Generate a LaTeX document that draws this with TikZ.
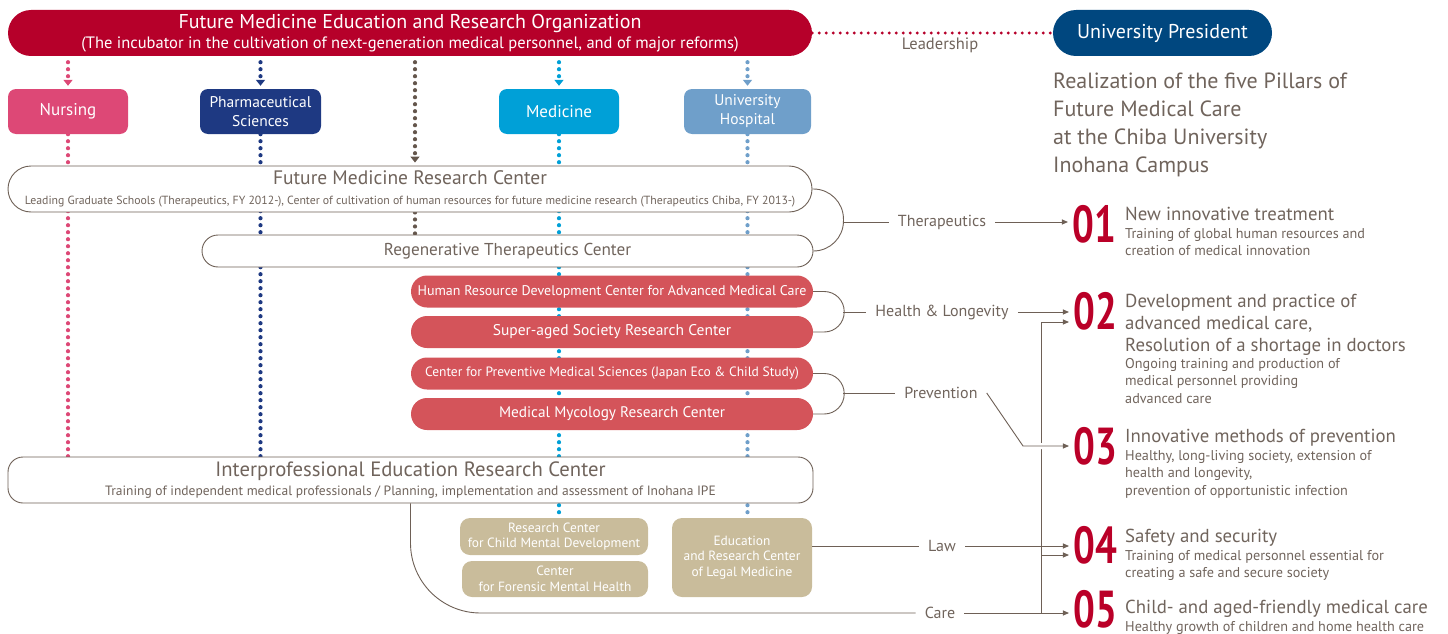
\documentclass[tikz,border=0pt]{standalone}
\usepackage{fontspec}
\setmainfont{PT Sans}
\usetikzlibrary{arrows.meta,backgrounds,calc}

\definecolor{orgred}{RGB}{182,0,42}
\definecolor{presblue}{RGB}{0,71,127}
\definecolor{nursepink}{RGB}{221,72,118}
\definecolor{pharmnavy}{RGB}{30,57,130}
\definecolor{medcyan}{RGB}{0,160,215}
\definecolor{hospblue}{RGB}{111,159,202}
\definecolor{dotbrown}{RGB}{100,86,76}
\definecolor{linebrown}{RGB}{110,96,86}
\definecolor{textgray}{RGB}{112,100,92}
\definecolor{boxred}{RGB}{212,84,90}
\definecolor{boxtan}{RGB}{201,188,155}
\definecolor{numred}{RGB}{186,0,40}

\newcommand{\pillarnum}[1]{\scalebox{0.74}[1]{\bfseries #1}}

\tikzset{
  orgbox/.style={fill=orgred, text=white, rounded corners=23pt, minimum width=804pt, minimum height=46pt, align=center, inner sep=0pt, font=\fontsize{16.5}{20}\selectfont},
  presbox/.style={fill=presblue, text=white, rounded corners=23pt, minimum width=219pt, minimum height=46pt, inner sep=0pt, font=\fontsize{20}{22}\selectfont},
  deptbox/.style={fill=#1, text=white, rounded corners=8pt, minimum height=45pt, align=center, inner sep=0pt, font=\fontsize{15.5}{19}\selectfont},
  ctrbox/.style={draw=linebrown, fill=white, line width=0.9pt, text=textgray, align=center, inner sep=0pt},
  redbox/.style={fill=boxred, text=white, rounded corners=16pt, minimum width=402pt, minimum height=32pt, inner sep=0pt},
  tanbox/.style={fill=boxtan, text=white, rounded corners=10pt, align=center, inner sep=0pt, font=\fontsize{13.4}{15.5}\selectfont},
  lbl/.style={text=textgray, font=\fontsize{16}{20}\selectfont, inner xsep=9pt, inner ysep=2pt},
  conn/.style={draw=linebrown, line width=0.9pt},
  arr/.style={conn, -{Triangle[width=5pt,length=6pt]}, shorten >=4pt},
  dotln/.style={draw=#1, line width=4.2pt, line cap=round, dash pattern=on 0pt off 7pt},
  dottip/.style={-{Triangle[width=9pt,length=6pt]}, shorten >=3pt, shorten <=6pt},
  numnode/.style={text=numred, font=\fontsize{52}{52}\selectfont, inner sep=0pt},
  ptitle/.style={text=textgray, font=\fontsize{18.8}{22}\selectfont, anchor=north west, align=left, inner sep=0pt},
  psub/.style={text=textgray, font=\fontsize{14.2}{17.5}\selectfont, anchor=north west, align=left, inner sep=0pt}
}

\begin{document}
\begin{tikzpicture}[x=1pt,y=-1pt]
%%%%% START %%%%%
\useasboundingbox (0,0) rectangle (1448,634);

% top row
\node[orgbox] (org) at (410,33) {{\fontsize{20}{22}\selectfont Future Medicine Education and Research Organization}\\(The incubator in the cultivation of next-generation medical personnel, and of major reforms)};
\node[presbox] (pres) at (1162.5,33) {University President};
\node[text=textgray, font=\fontsize{16.5}{18}\selectfont] (lead) at (940,45) {Leadership};
\node[text=textgray, font=\fontsize{22}{28}\selectfont, anchor=north west, align=left, inner sep=0pt] (real) at (1053,73) {Realization of the five Pillars of\\Future Medical Care\\at the Chiba University\\Inohana Campus};

% faculties
\node[deptbox=nursepink, minimum width=120pt, font=\fontsize{17}{19}\selectfont] (nurse) at (68,111.5) {Nursing};
\node[deptbox=pharmnavy, minimum width=121pt] (pharm) at (260.5,111.5) {Pharmaceutical\\Sciences};
\node[deptbox=medcyan, minimum width=120pt, font=\fontsize{17}{19}\selectfont] (med) at (559,111.5) {Medicine};
\node[deptbox=hospblue, minimum width=127pt] (hosp) at (747.5,111.5) {University\\Hospital};
\coordinate (cB) at (415,0);

% centers
\node[ctrbox, rounded corners=23pt, minimum width=804pt, minimum height=46pt, font=\fontsize{11.8}{20}\selectfont] (fmrc) at (410,189) {{\fontsize{19.5}{22}\selectfont Future Medicine Research Center}\\Leading Graduate Schools (Therapeutics, FY 2012-), Center of cultivation of human resources for future medicine research (Therapeutics Chiba, FY 2013-)};
\node[ctrbox, rounded corners=16pt, minimum width=611pt, minimum height=32pt, font=\fontsize{17.2}{20}\selectfont] (regen) at (507.5,251) {Regenerative Therapeutics Center};

\node[redbox, font=\fontsize{14}{17}\selectfont] (hrd) at (612,291.5) {Human Resource Development Center for Advanced Medical Care};
\node[redbox, font=\fontsize{15.5}{17}\selectfont] (sasr) at (612,332) {Super-aged Society Research Center};
\node[redbox, font=\fontsize{13.5}{17}\selectfont] (cpms) at (612,373.5) {Center for Preventive Medical Sciences (Japan Eco \& Child Study)};
\node[redbox, font=\fontsize{15.3}{17}\selectfont] (mmrc) at (612,414) {Medical Mycology Research Center};

\node[ctrbox, rounded corners=15pt, minimum width=805pt, minimum height=46pt, font=\fontsize{13.5}{19}\selectfont] (ipe) at (410.5,480) {{\fontsize{20.7}{22}\selectfont Interprofessional Education Research Center}\\Training of independent medical professionals / Planning, implementation and assessment of Inohana IPE};

\node[tanbox, minimum width=188pt, minimum height=37pt] (rccm) at (554,536.5) {Research Center\\for Child Mental Development};
\node[tanbox, minimum width=186pt, minimum height=36pt] (cfmh) at (555,579) {Center\\for Forensic Mental Health};
\node[tanbox, minimum width=140pt, minimum height=79pt] (erclm) at (742,557.5) {Education\\and Research Center\\of Legal Medicine};

% dotted links
\begin{pgfonlayer}{background}
\draw[dotln=orgred, line width=3.2pt] (org.east) -- (pres.west);
\draw[dotln=nursepink, dottip] (org.south -| nurse) -- (nurse.north);
\draw[dotln=pharmnavy, dottip] (org.south -| pharm) -- (pharm.north);
\draw[dotln=medcyan, dottip] (org.south -| med) -- (med.north);
\draw[dotln=hospblue, dottip] (org.south -| hosp) -- (hosp.north);
\draw[dotln=dotbrown, dottip] (org.south -| cB) -- (fmrc.north -| cB);
\draw[dotln=nursepink] (nurse.south) -- (ipe.north -| nurse);
\draw[dotln=pharmnavy] (pharm.south) -- (ipe.north -| pharm);
\draw[dotln=dotbrown] (fmrc.south -| cB) -- (regen.north -| cB);
\draw[dotln=medcyan] (med.south) -- (rccm.north -| med);
\draw[dotln=hospblue] (hosp.south) -- (erclm.north -| hosp);
\end{pgfonlayer}

% themes
\node[lbl] (ther) at (942,222) {Therapeutics};
\node[lbl] (hl) at (942,312) {Health \& Longevity};
\node[lbl] (prev) at (941,393) {Prevention};
\node[lbl] (law) at (942,546) {Law};
\node[lbl] (care) at (940,613) {Care};
\coordinate (bx) at (843,0);
\coordinate (pk) at (1023,446);
\coordinate (b2) at (1041,322);
\coordinate (b4) at (1041,555);

% pillars
\node[numnode] (n1) at (1094,224) {\pillarnum{01}};
\node[numnode] (n2) at (1095,311) {\pillarnum{02}};
\node[numnode] (n3) at (1095,446) {\pillarnum{03}};
\node[numnode] (n4) at (1095,545) {\pillarnum{04}};
\node[numnode] (n5) at (1095,609) {\pillarnum{05}};

\node[ptitle] (t1) at (1125,206.5) {New innovative treatment};
\node[psub] (s1) at (1125,228) {Training of global human resources and\\creation of medical innovation};
\node[ptitle] (t2) at (1125,293.5) {Development and practice of\\advanced medical care,\\Resolution of a shortage in doctors};
\node[psub] (s2) at (1125,358) {Ongoing training and production of\\medical personnel providing\\advanced care};
\node[ptitle] (t3) at (1125,428.5) {Innovative methods of prevention};
\node[psub] (s3) at (1125,450) {Healthy, long-living society, extension of\\health and longevity,\\prevention of opportunistic infection};
\node[ptitle] (t4) at (1125,528.5) {Safety and security};
\node[psub] (s4) at (1125,550) {Training of medical personnel essential for\\creating a safe and secure society};
\node[ptitle] (t5) at (1125,599.5) {Child- and aged-friendly medical care};
\node[psub] (s5) at (1125,621) {Healthy growth of children and home health care};

% brackets and arrows
\draw[conn, rounded corners=30pt] (fmrc.east) -- ++(31,0) |- (regen.east);
\draw[conn] (ther.west -| bx) -- (ther.west);
\draw[arr] (ther.east) -- (ther.east -| n1.west);

\draw[conn, rounded corners=20pt] (hrd.east) -- ++(31,0) |- (sasr.east);
\draw[conn] (hl.west -| bx) -- (hl.west);
\draw[arr] (hl.east) -- (hl.east -| n2.west);

\draw[conn, rounded corners=20pt] (cpms.east) -- ++(31,0) |- (mmrc.east);
\draw[conn] (prev.west -| bx) -- (prev.west);

\draw[conn] (law.west -| erclm.east) -- (law.west);
\draw[arr] (law.east) -- (law.east -| n4.west);

\draw[conn, rounded corners=70pt] (ipe.south) |- (care.west);
\draw[arr] (care.east) -- (care.east -| n5.west);
\draw[arr] (care.east -| b2) -- (b2) -- (b2 -| n2.west);
\draw[arr] (b4) -- (b4 -| n4.west);

\draw[arr, preaction={-, draw=white, line width=6pt}] (prev.east) -- (pk) -- (pk -| n3.west);
%%%%% END %%%%%
\end{tikzpicture}
\end{document}
